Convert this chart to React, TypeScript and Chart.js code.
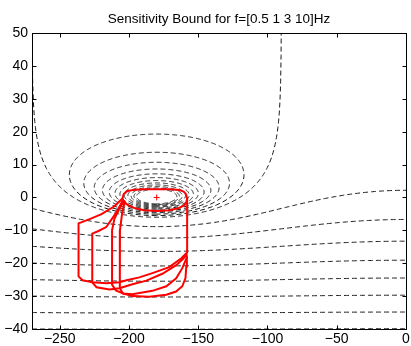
import React, { useEffect, useRef } from 'react';
import { Chart, registerables } from 'chart.js';

Chart.register(...registerables);

const TITLE = 'Sensitivity Bound for f=[0.5 1 3 10]Hz';
const X_MIN = -270;
const X_MAX = 0;
const Y_MIN = -40;
const Y_MAX = 50;
const X_TICKS = [-250, -200, -150, -100, -50, 0];
const Y_TICKS = [-40, -30, -20, -10, 0, 10, 20, 30, 40, 50];

// Closed-loop magnitude contour levels (dB) of the Nichols grid
const M_CLOSED_DB = [1, 2, 3, 4, 5, 6, 7, 8, 9, 10, 11, 12];
const M_UNITY_DB = 0;
const M_OPEN_DB = [-5, -10, -15, -20, -25, -30, -35, -40];

// Critical point
const CRITICAL_PHASE = [-180];
const CRITICAL_DB = [0];

// Bound ring around the critical point
const RING_PHASE = [-204.7, -203.8, -201.5, -197, -190, -180, -170, -164, -160.5, -158.8, -158.0, -158.6, -160.5, -164.5, -171, -180, -189, -195.5, -200.5, -203.5, -204.7];
const RING_DB = [-0.3, 1.0, 1.9, 2.3, 2.5, 2.5, 2.5, 2.3, 1.8, 1.0, -0.3, -1.5, -2.5, -3.3, -3.9, -4.1, -3.9, -3.3, -2.4, -1.4, -0.3];

// Bound for 0.5 Hz
const BOUND_A_PHASE = [-204.7, -210.5, -219.8, -228.4, -236.4, -236.4, -233.5, -226.3, -216.2, -206.9, -201.8, -192.5, -183.1, -170.9, -162.2, -158.0, -158.0];
const BOUND_A_DB = [-0.3, -2.7, -5.1, -6.6, -7.9, -24.0, -25.2, -25.8, -26.1, -25.8, -25.2, -24.3, -23.0, -21.2, -18.5, -16.7, -0.3];

// Bound for 1 Hz
const BOUND_B_PHASE = [-204.0, -209.8, -216.4, -222.0, -226.5, -226.5, -223.4, -214.1, -206.9, -197.5, -187.4, -175.9, -165.9, -160.5, -158.0];
const BOUND_B_DB = [-0.6, -5.0, -9.0, -10.2, -11.0, -25.8, -27.3, -28.0, -27.6, -26.4, -25.3, -23.2, -20.6, -18.5, -17.0];

// Bound for 3 Hz
const BOUND_C_PHASE = [-203.5, -207.0, -210.5, -212.2, -212.2, -209.5, -204.0, -197.5, -183.1, -173.0, -165.9, -161.5, -158.5, -158.0];
const BOUND_C_DB = [-0.8, -3.5, -6.5, -10.0, -26.5, -28.3, -29.2, -29.4, -28.4, -27.0, -24.6, -21.5, -18.5, -17.6];

// Bound for 10 Hz
const BOUND_D_PHASE = [-203.0, -205.0, -206.5, -206.6, -204.5, -197.5, -185.3, -173.0, -166.0, -161.5, -159.2, -158.6, -158.2];
const BOUND_D_DB = [-1.0, -5.0, -10.0, -27.5, -29.2, -30.0, -30.2, -29.6, -28.6, -27.0, -24.5, -21.0, -18.0];

const FONT_FAMILY = '"Liberation Sans", Arial, Helvetica, sans-serif';
const DEG = Math.PI / 180;

const zip = (xs: number[], ys: number[]) => xs.map((x, i) => ({ x, y: ys[i] }));

// Nichols grid contour for closed-loop magnitude M > 1 (closed curve around the critical point)
function closedContour(mDb: number) {
  const M = Math.pow(10, mDb / 20);
  const c = -(M * M) / (M * M - 1);
  const r = M / (M * M - 1);
  const pts: { x: number; y: number }[] = [];
  for (let i = 0; i <= 360; i++) {
    const t = i * DEG;
    const re = c + r * Math.cos(t);
    const im = r * Math.sin(t);
    let ph = Math.atan2(im, re) / DEG;
    if (ph > 0) ph -= 360;
    pts.push({ x: ph, y: 20 * Math.log10(Math.hypot(re, im)) });
  }
  return pts;
}

// Contour for M = 1 (0 dB): Re L = -1/2
function unityContour() {
  const alphas: number[] = [];
  for (let a = 0; a < 89; a += 0.5) alphas.push(a);
  alphas.push(89, 89.5, 89.8, 89.9, 89.95, 89.98, 89.995);
  const left = alphas.slice().reverse().map((a) => ({ x: -180 - a, y: 20 * Math.log10(0.5 / Math.cos(a * DEG)) }));
  const right = alphas.slice(1).map((a) => ({ x: -180 + a, y: 20 * Math.log10(0.5 / Math.cos(a * DEG)) }));
  return left.concat(right);
}

// Contour for M < 1: open curve across all phases
function openContour(mDb: number) {
  const M = Math.pow(10, mDb / 20);
  const M2 = M * M;
  const pts: { x: number; y: number }[] = [];
  for (let ph = X_MIN; ph <= X_MAX; ph += 1) {
    const c = Math.cos(ph * DEG);
    const g = (M2 * c + Math.sqrt(M2 * M2 * c * c + (1 - M2) * M2)) / (1 - M2);
    pts.push({ x: ph, y: 20 * Math.log10(g) });
  }
  return pts;
}

const fmt = (v: number | string) => {
  const n = Number(v);
  return n < 0 ? '\u2212' + Math.abs(n) : String(n);
};

const framePlugin = {
  id: 'axisFrame',
  afterDraw(chart: any) {
    const { ctx, chartArea: a, scales } = chart;
    const xs = scales.x;
    const ys = scales.y;
    ctx.save();
    ctx.setTransform(1, 0, 0, 1, 0, 0);
    ctx.globalCompositeOperation = 'source-over';
    ctx.globalAlpha = 1;
    ctx.setLineDash([]);
    ctx.strokeStyle = '#000000';
    ctx.lineWidth = 1;
    const L = Math.round(a.left) + 0.5;
    const R = Math.round(a.right) + 0.5;
    const T = Math.round(a.top) + 0.5;
    const B = Math.round(a.bottom) + 0.5;
    ctx.strokeRect(L, T, R - L, B - T);
    const len = 4;
    ctx.beginPath();
    X_TICKS.forEach((v) => {
      const px = Math.round(xs.getPixelForValue(v)) + 0.5;
      ctx.moveTo(px, B);
      ctx.lineTo(px, B - len);
      ctx.moveTo(px, T);
      ctx.lineTo(px, T + len);
    });
    Y_TICKS.forEach((v) => {
      const py = Math.round(ys.getPixelForValue(v)) + 0.5;
      ctx.moveTo(L, py);
      ctx.lineTo(L + len, py);
      ctx.moveTo(R, py);
      ctx.lineTo(R - len, py);
    });
    ctx.stroke();
    ctx.fillStyle = '#000000';
    ctx.font = '13.5px ' + FONT_FAMILY;
    ctx.textAlign = 'center';
    ctx.textBaseline = 'alphabetic';
    ctx.fillText(TITLE, (a.left + a.right) / 2, 23);
    ctx.restore();
  },
};

export default function App() {
  const ref = useRef<HTMLCanvasElement>(null);

  useEffect(() => {
    const gridStyle = {
      showLine: true,
      pointRadius: 0,
      borderColor: '#1a1a1a',
      borderWidth: 1,
      borderDash: [5, 3],
      fill: false,
      order: 2,
    };
    const boundStyle = {
      showLine: true,
      pointRadius: 0,
      borderColor: '#ff0000',
      borderWidth: 2,
      fill: false,
      order: 1,
    };
    const datasets: any[] = [];
    M_CLOSED_DB.forEach((m) => datasets.push({ ...gridStyle, label: `M ${m} dB`, data: closedContour(m) }));
    datasets.push({ ...gridStyle, label: `M ${M_UNITY_DB} dB`, data: unityContour() });
    M_OPEN_DB.forEach((m) => datasets.push({ ...gridStyle, label: `M ${m} dB`, data: openContour(m) }));
    datasets.push({ ...boundStyle, label: 'ring', data: zip(RING_PHASE, RING_DB) });
    datasets.push({ ...boundStyle, label: '0.5 Hz', data: zip(BOUND_A_PHASE, BOUND_A_DB) });
    datasets.push({ ...boundStyle, label: '1 Hz', data: zip(BOUND_B_PHASE, BOUND_B_DB) });
    datasets.push({ ...boundStyle, label: '3 Hz', data: zip(BOUND_C_PHASE, BOUND_C_DB) });
    datasets.push({ ...boundStyle, label: '10 Hz', data: zip(BOUND_D_PHASE, BOUND_D_DB) });
    datasets.push({
      label: 'critical',
      data: zip(CRITICAL_PHASE, CRITICAL_DB),
      showLine: false,
      pointStyle: 'cross',
      pointRadius: 3,
      borderColor: '#ff0000',
      backgroundColor: '#ff0000',
      borderWidth: 1,
      order: 0,
    });

    const tickFont = { family: FONT_FAMILY, size: 14 };
    const chart = new Chart(ref.current as HTMLCanvasElement, {
      type: 'scatter',
      data: { datasets },
      options: {
        animation: false,
        responsive: false,
        events: [],
        layout: { padding: { top: 33, right: 4, left: 0, bottom: 0 } },
        plugins: {
          legend: { display: false },
          tooltip: { enabled: false },
          title: { display: false },
        },
        scales: {
          x: {
            type: 'linear',
            min: X_MIN,
            max: X_MAX,
            grid: { display: false, drawTicks: false },
            border: { display: false },
            afterBuildTicks: (s: any) => {
              s.ticks = X_TICKS.map((v) => ({ value: v }));
            },
            afterFit: (s: any) => {
              s.height = 17;
              s.paddingLeft = 0;
              s.paddingRight = 0;
            },
            ticks: { font: tickFont, color: '#000', padding: 2, maxRotation: 0, autoSkip: false, callback: fmt },
          },
          y: {
            type: 'linear',
            min: Y_MIN,
            max: Y_MAX,
            grid: { display: false, drawTicks: false },
            border: { display: false },
            afterBuildTicks: (s: any) => {
              s.ticks = Y_TICKS.map((v) => ({ value: v }));
            },
            afterFit: (s: any) => {
              s.width = 32;
              s.paddingTop = 0;
              s.paddingBottom = 0;
            },
            ticks: { font: tickFont, color: '#000', padding: 4, autoSkip: false, callback: fmt },
          },
        },
      } as any,
      plugins: [framePlugin],
    });
    return () => chart.destroy();
  }, []);

  return (
    <div style={{ position: 'absolute', left: 0, top: 0, width: 411, height: 346, background: '#fff' }}>
      <canvas ref={ref} width={411} height={346} style={{ display: 'block', width: 411, height: 346 }} />
    </div>
  );
}
